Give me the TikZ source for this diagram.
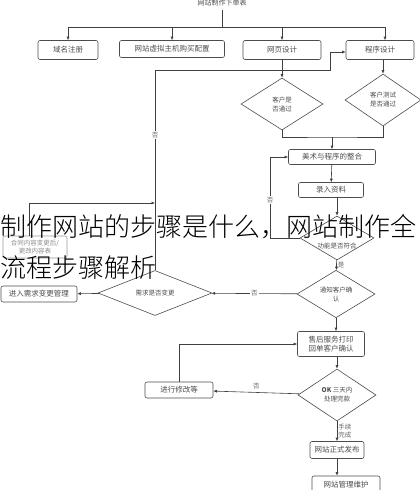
\documentclass[tikz,border=0pt]{standalone}
\usepackage{fontspec}
\newfontfamily\cjk{Noto Sans CJK SC}
\newfontfamily\cjkthin{Noto Sans CJK SC Light}
\usetikzlibrary{arrows.meta,shapes.geometric}

\tikzset{
  box/.style={draw=black!70,rounded corners=2pt,inner sep=1pt,align=center,
    text=black!70,font=\cjk\fontsize{7.5}{9}\selectfont},
  choice/.style={draw=black!70,diamond,inner sep=0pt,align=center,
    text=black!70,font=\cjk\fontsize{6.5}{9}\selectfont},
  flow/.style={-{Latex[length=3.5pt,width=3pt]}},
  tag/.style={fill=white,inner sep=1pt,text=black!60,font=\cjk\fontsize{6.5}{8}\selectfont}
}

\begin{document}
\begin{tikzpicture}[x=1pt,y=-1pt,line width=0.6pt,draw=black!75]
    \useasboundingbox (0,0) rectangle (420,490);
    \clip (0,0) rectangle (420,490);
    % top row
    \node[text=black!70,font=\cjk\fontsize{7}{8}\selectfont] (order) at (222,3) {网站制作下单表};
    \coordinate (hub) at (222,27);
    \node[box,minimum width=60pt,minimum height=19pt] (domain) at (68,50) {域名注册};
    \node[box,minimum width=105pt,minimum height=17pt] (host) at (172,49) {网站虚拟主机购买配置};
    \node[box,minimum width=78pt,minimum height=19pt] (page) at (282,50) {网页设计};
    \node[box,minimum width=68pt,minimum height=19pt] (prog) at (380,50) {程序设计};
    \draw (order) -- (hub);
    \draw[flow] (hub) -| (domain);
    \draw[flow] (hub) -| ([xshift=5pt]prog.north);
    \draw[flow] (host |- hub) -- (host);
    \draw[flow] (page |- hub) -- (page);
    % checks
    \node[choice,minimum width=82pt,minimum height=52pt] (pass1) at (282,104) {客户是\\否通过};
    \node[choice,minimum width=76pt,minimum height=52pt] (pass2) at (383,100) {客户测试\\是否通过};
    \draw[flow] (page) -- (pass1);
    \draw[flow] (pass2 |- prog.south) -- (pass2);
    \coordinate (join) at (332,137);
    \draw (pass1.south) |- (join) -| (pass2.south);
    % build
    \node[box,minimum width=87pt,minimum height=15pt] (merge) at (332,157) {美术与程序的整合};
    \node[box,minimum width=65pt,minimum height=15pt] (input) at (331,190) {录入资料};
    \node[choice,minimum width=74pt,minimum height=44pt,
      label={[choice,draw=none,yshift=-8pt]center:功能是否符合}] (func) at (337,238) {};
    \draw[flow] (join) -- (merge);
    \draw[flow] (merge) -- (input);
    \draw[flow] (input.south -| func) -- (func);
    \coordinate (back1) at (270,238);
    \draw[flow] (func.west) -- (back1) |- (merge.west);
    \node[tag] at (270,200) {否};
    % confirm
    \node[choice,minimum width=78pt,minimum height=40pt] (notify) at (336,294) {通知客户确\\认};
    \node[choice,minimum width=114pt,minimum height=38pt] (change) at (155,293) {需求是否变更};
    \node[box,minimum width=76pt,minimum height=16pt] (manage) at (39,294) {进入需求变更管理};
    \node[box,draw=black!40,text=black!45,minimum width=64pt,minimum height=22pt,
      font=\cjk\fontsize{6.5}{7.5}\selectfont] (contract) at (35,247) {合同内容变更后/\\更改内容表};
    \draw[flow] (func) -- (notify) node[pos=0.55,right,tag,fill=none] {是};
    \draw[flow] (notify) -- (change) node[midway,tag] {否};
    \draw[flow] (change) -- (manage);
    \coordinate (turn1) at (155,70);
    \coordinate (turn2) at (330,70);
    \draw[flow] (change.north) -- (turn1) -- (turn2) |- ([yshift=-2pt]prog.west);
    \node[tag] at (155,135) {否};
    \coordinate (meet) at (155,203);
    \draw[flow] ([xshift=-6pt]contract.north) |- (meet);
    % after sales
    \node[box,minimum width=67pt,minimum height=25pt] (after) at (331,344) {售后服务打印\\回单客户确认};
    \node[choice,minimum width=78pt,minimum height=52pt] (ok) at (337,395) {\textbf{OK} 三天内\\处理完款};
    \node[box,minimum width=68pt,minimum height=16pt] (fix) at (179,390) {进行修改等};
    \draw[flow] (notify.south) -- (notify.south |- after.north);
    \draw[flow] (ok.north |- after.south) -- (ok);
    \draw[flow] (ok) -- (fix) node[midway,above=2pt,tag,fill=none] {否};
    \draw[flow] (fix) |- (after);
    % release
    \node[box,minimum width=54pt,minimum height=17pt] (publish) at (337,450) {网站正式发布};
    \node[box,minimum width=68pt,minimum height=18pt] (maint) at (346,485) {网站管理维护};
    \draw[flow] (ok) -- (publish) node[midway,right,tag,fill=none,align=left] {手续\\完成};
    \draw[flow] (publish) -- (publish |- maint.north);
    % title overlay
    \node[anchor=north west,inner sep=0pt,align=left,text=black,
      font=\cjkthin\fontsize{26}{41}\selectfont] (title) at (0,214)
      {制作网站的步骤是什么，网站制作全\\流程步骤解析};
\end{tikzpicture}
\end{document}
